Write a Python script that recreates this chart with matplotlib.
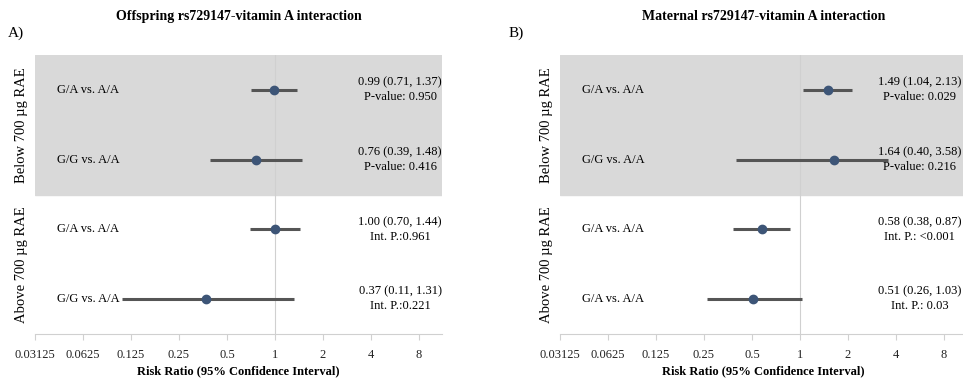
import numpy as np
import matplotlib.pyplot as plt

plt.rcParams['font.family'] = ['Liberation Serif', 'DejaVu Serif']

# Data
row_labels_a = ['G/A vs. A/A', 'G/G vs. A/A', 'G/A vs. A/A', 'G/G vs. A/A']
rr_a = [0.99, 0.76, 1.00, 0.37]
lo_a = [0.71, 0.39, 0.70, 0.11]
hi_a = [1.37, 1.48, 1.44, 1.31]
pval_a = ['P-value: 0.950', 'P-value: 0.416', 'Int. P.:0.961', 'Int. P.:0.221']

row_labels_b = ['G/A vs. A/A', 'G/G vs. A/A', 'G/A vs. A/A', 'G/A vs. A/A']
rr_b = [1.49, 1.64, 0.58, 0.51]
lo_b = [1.04, 0.40, 0.38, 0.26]
hi_b = [2.13, 3.58, 0.87, 1.03]
pval_b = ['P-value: 0.029', 'P-value: 0.216', 'Int. P.: <0.001', 'Int. P.: 0.03']

groups = ['Below 700 \u00b5g RAE', 'Above 700 \u00b5g RAE']
ticks = [0.03125, 0.0625, 0.125, 0.25, 0.5, 1, 2, 4, 8]
tick_labels = ['0.03125', '0.0625', '0.125', '0.25', '0.5', '1', '2', '4', '8']

fig = plt.figure(figsize=(9.63, 3.86), dpi=100)


def panel(rect, title, labels, rr, lo, hi, pv, text_x):
    ax = fig.add_axes(rect)
    y = np.arange(len(rr))
    ax.set_xscale('log', base=2)
    ax.set_xlim(2 ** -5, 2 ** 3.48)
    ax.set_ylim(3.5, -0.5)
    ax.axhspan(-0.5, 1.5, color='#d9d9d9', zorder=0)
    ax.axvline(1, color='#d0d0d0', lw=0.8, zorder=1)
    ax.hlines(y, lo, hi, color='#555555', lw=2.2, zorder=2)
    ax.plot(rr, y, 'o', color='#3d5577', ms=6, zorder=3)
    tr = ax.get_yaxis_transform()
    for i in range(len(rr)):
        ax.text(0.055, y[i], labels[i], transform=tr,
                ha='left', va='center', fontsize=9)
        ax.text(text_x, y[i], f'{rr[i]:.2f} ({lo[i]:.2f}, {hi[i]:.2f})\n{pv[i]}',
                transform=tr, ha='center', va='center',
                fontsize=9, linespacing=1.3)
    ax.text(-0.032, 0.5, groups[0], transform=tr, rotation=90,
            ha='center', va='center', fontsize=10.5)
    ax.text(-0.032, 2.5, groups[1], transform=tr, rotation=90,
            ha='center', va='center', fontsize=10.5)
    ax.set_xticks(ticks)
    ax.set_xticklabels(tick_labels, fontsize=9)
    ax.minorticks_off()
    ax.set_yticks([])
    for s in ['top', 'right', 'left']:
        ax.spines[s].set_visible(False)
    ax.spines['bottom'].set_color('#d0d0d0')
    ax.tick_params(axis='x', colors='#d0d0d0', labelcolor='#222222', length=4, pad=7)
    ax.set_xlabel('Risk Ratio (95% Confidence Interval)', fontsize=9, fontweight='bold',
                  labelpad=3)
    ax.set_title(title, fontsize=10, fontweight='bold', pad=25)
    return ax


panel([0.0363, 0.1347, 0.4226, 0.7228], 'Offspring rs729147-vitamin A interaction',
      row_labels_a, rr_a, lo_a, hi_a, pval_a, 0.897)
panel([0.5815, 0.1347, 0.4226, 0.7228], 'Maternal rs729147-vitamin A interaction',
      row_labels_b, rr_b, lo_b, hi_b, pval_b, 0.884)

fig.text(0.008, 0.915, 'A)', fontsize=11, va='center')
fig.text(0.528, 0.915, 'B)', fontsize=11, va='center')

fig.savefig('out.png', dpi=100)
